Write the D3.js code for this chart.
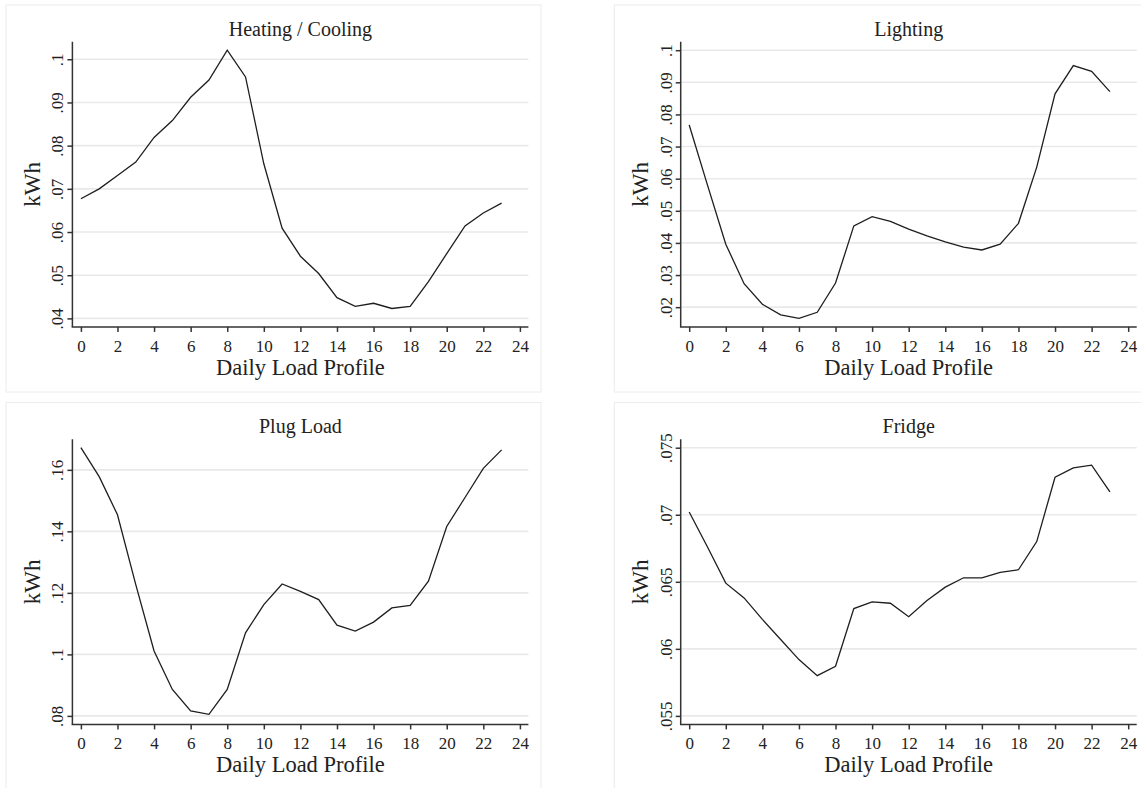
<!DOCTYPE html>
<head>
  <meta charset="utf-8">
  <title>Daily Load Profiles</title>
  <script src="https://d3js.org/d3.v7.min.js"></script>
  <style>
    body {
      margin: 0px;
      background: white;
    }
    text {
      font-family: "Liberation Serif", "Times New Roman", serif;
      fill: #222;
    }
    .grid line {
      stroke: #e9e9e9;
      stroke-width: 1.6;
    }
    .axis path, .axis line {
      stroke: #333;
      stroke-width: 1.5;
    }
    .axis text {
      font-size: 17px;
    }
  </style>
</head>
<body>
  <svg width="1141" height="788"></svg>

  <script>
    // hours of the day
    var hours = d3.range(0, 24);
    var xTicks = [0, 2, 4, 6, 8, 10, 12, 14, 16, 18, 20, 22, 24];

    var titles = ["Heating / Cooling", "Lighting", "Plug Load", "Fridge"];

    var heating = [0.0677, 0.0700, 0.0731, 0.0762, 0.0819, 0.0858, 0.0912, 0.0952,
                   0.1021, 0.0959, 0.0758, 0.0609, 0.0544, 0.0504, 0.0448, 0.0428,
                   0.0435, 0.0423, 0.0428, 0.0485, 0.0550, 0.0614, 0.0644, 0.0667];
    var lighting = [0.0767, 0.0580, 0.0396, 0.0273, 0.0209, 0.0176, 0.0165, 0.0184,
                    0.0275, 0.0453, 0.0482, 0.0467, 0.0443, 0.0422, 0.0403, 0.0387,
                    0.0378, 0.0396, 0.0461, 0.0636, 0.0864, 0.0952, 0.0934, 0.0871];
    var plugLoad = [0.1672, 0.1578, 0.1454, 0.1227, 0.1011, 0.0886, 0.0816, 0.0805,
                    0.0886, 0.1070, 0.1162, 0.1229, 0.1205, 0.1178, 0.1095, 0.1076,
                    0.1105, 0.1151, 0.1159, 0.1238, 0.1416, 0.1510, 0.1605, 0.1665];
    var fridge = [0.0702, 0.0676, 0.0649, 0.0638, 0.0622, 0.0607, 0.0592, 0.0580,
                  0.0587, 0.0630, 0.0635, 0.0634, 0.0624, 0.0636, 0.0646, 0.0653,
                  0.0653, 0.0657, 0.0659, 0.0680, 0.0728, 0.0735, 0.0737, 0.0717];

    var heatingTicks = [0.04, 0.05, 0.06, 0.07, 0.08, 0.09, 0.1];
    var lightingTicks = [0.02, 0.03, 0.04, 0.05, 0.06, 0.07, 0.08, 0.09, 0.1];
    var plugTicks = [0.08, 0.1, 0.12, 0.14, 0.16];
    var fridgeTicks = [0.055, 0.06, 0.065, 0.07, 0.075];

    var series = [heating, lighting, plugLoad, fridge];
    var yTickSets = [heatingTicks, lightingTicks, plugTicks, fridgeTicks];

    // panel layout
    var panelOrigins = [[6, 5], [614.3, 5], [6, 402.5], [614.3, 402.5]];
    var panel = { "width": 535, "height": 387 };
    var plot = { "left": 66.4, "right": 522.4, "top": 36.7, "bottom": 321.9 };
    var inner = 8.5;

    var svg = d3.select("svg");
    svg.append("rect").attr("width", 1141).attr("height", 788).attr("fill", "white");

    series.forEach(function(values, i) {
      var g = svg.append("g")
        .attr("transform", translate(panelOrigins[i][0], panelOrigins[i][1]));

      g.append("rect")
        .attr("x", 0).attr("y", 0)
        .attr("width", panel.width).attr("height", panel.height)
        .attr("fill", "white")
        .attr("stroke", "#ececec")
        .attr("stroke-width", 1);

      var ticks = yTickSets[i];
      var x = d3.scaleLinear()
        .domain([0, 24])
        .range([plot.left + inner, plot.right - inner]);
      var y = d3.scaleLinear()
        .domain(d3.extent(ticks.concat(values)))
        .range([plot.bottom - inner, plot.top + inner]);

      // horizontal grid
      g.append("g").attr("class", "grid")
        .selectAll("line")
        .data(ticks)
        .enter().append("line")
        .attr("x1", plot.left).attr("x2", plot.right)
        .attr("y1", function(d) { return y(d); })
        .attr("y2", function(d) { return y(d); });

      // y axis
      var yAxis = d3.axisLeft(y)
        .tickValues(ticks)
        .tickSize(5)
        .tickSizeOuter(0)
        .tickFormat(function(d) { return String(d).replace(/^0/, ""); });
      var gy = g.append("g").attr("class", "axis")
        .attr("transform", translate(plot.left, 0))
        .call(yAxis);
      gy.select(".domain").remove();
      gy.selectAll(".tick text")
        .attr("x", null).attr("dy", null)
        .attr("text-anchor", "middle")
        .attr("transform", "translate(-9,0) rotate(-90)")
        .attr("y", 0);
      gy.append("line")
        .attr("x1", 0).attr("x2", 0)
        .attr("y1", plot.top).attr("y2", plot.bottom);

      // x axis
      var xAxis = d3.axisBottom(x)
        .tickValues(xTicks)
        .tickSize(5)
        .tickSizeOuter(0);
      var gx = g.append("g").attr("class", "axis")
        .attr("transform", translate(0, plot.bottom))
        .call(xAxis);
      gx.select(".domain").remove();
      gx.selectAll(".tick text").attr("y", 25).attr("dy", null);
      gx.append("line")
        .attr("x1", plot.left - 0.75).attr("x2", plot.right)
        .attr("y1", 0).attr("y2", 0);

      // line
      var line = d3.line()
        .x(function(d, j) { return x(hours[j]); })
        .y(function(d) { return y(d); });
      g.append("path")
        .datum(values)
        .attr("fill", "none")
        .attr("stroke", "#1e1e1e")
        .attr("stroke-width", 1.3)
        .attr("d", line);

      var cx = (plot.left + plot.right) / 2;
      g.append("text")
        .attr("x", cx).attr("y", 30.5)
        .attr("text-anchor", "middle")
        .style("font-size", "20px")
        .text(titles[i]);

      g.append("text")
        .attr("x", cx).attr("y", 369.5)
        .attr("text-anchor", "middle")
        .style("font-size", "22.5px")
        .text("Daily Load Profile");

      g.append("text")
        .attr("text-anchor", "middle")
        .attr("transform", translate(plot.left - 32.5, (plot.top + plot.bottom) / 2) + " rotate(-90)")
        .style("font-size", "23px")
        .text("kWh");
    });

    function translate(x, y) {
      return "translate(" + String(x) + "," + String(y) + ")";
    }
  </script>
</body>
</html>
